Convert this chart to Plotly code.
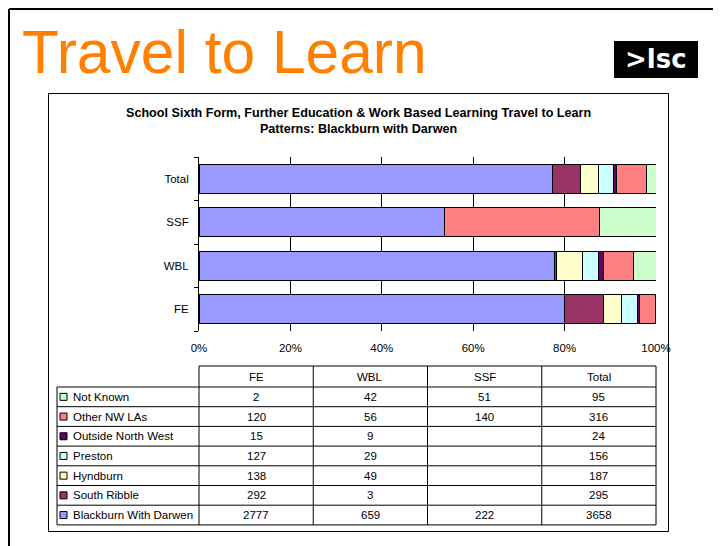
import plotly.graph_objects as go

# ---------------- data ----------------
groups = ["FE", "WBL", "SSF", "Total"]
destinations = ["Not Known", "Other NW LAs", "Outside North West", "Preston",
                "Hyndburn", "South Ribble", "Blackburn With Darwen"]
not_known = [2, 42, 51, 95]
other_nw_las = [120, 56, 140, 316]
outside_north_west = [15, 9, None, 24]
preston = [127, 29, None, 156]
hyndburn = [138, 49, None, 187]
south_ribble = [292, 3, None, 295]
blackburn_with_darwen = [2777, 659, 222, 3658]
x_tick_values = [0, 20, 40, 60, 80, 100]
x_tick_labels = ["0%", "20%", "40%", "60%", "80%", "100%"]

series = {
    "Not Known": not_known,
    "Other NW LAs": other_nw_las,
    "Outside North West": outside_north_west,
    "Preston": preston,
    "Hyndburn": hyndburn,
    "South Ribble": south_ribble,
    "Blackburn With Darwen": blackburn_with_darwen,
}
colors = {
    "Not Known": "#CCFFCC",
    "Other NW LAs": "#FF8080",
    "Outside North West": "#660066",
    "Preston": "#CCFFFF",
    "Hyndburn": "#FFFFCC",
    "South Ribble": "#993366",
    "Blackburn With Darwen": "#9999FF",
}

# page is shown with the browser's default 8px body margin
OFF = 8
W, H = 721 - OFF, 546 - OFF
FONT = "Arial, 'Liberation Sans', sans-serif"


def px(x):
    return (x - OFF) / W


def py(y):
    return 1 - (y - OFF) / H


# plot area (page pixels)
PL, PR, PT, PB = 199, 656, 157, 331

fig = go.Figure()
stack_order = list(reversed(destinations))  # Blackburn first (left)
for name in stack_order:
    fig.add_trace(go.Bar(
        y=groups, x=series[name], name=name, orientation="h",
        marker=dict(color=colors[name], line=dict(color="black", width=1)),
        showlegend=False,
    ))

shapes = []
annotations = []

# slide border
shapes.append(dict(type="line", xref="paper", yref="paper", x0=px(9), x1=px(740),
                   y0=py(9), y1=py(9), line=dict(color="black", width=2)))
shapes.append(dict(type="line", xref="paper", yref="paper", x0=px(9), x1=px(9),
                   y0=py(9), y1=py(560), line=dict(color="black", width=2)))
# chart box
shapes.append(dict(type="rect", xref="paper", yref="paper", x0=px(48.5), x1=px(668.5),
                   y0=py(93.5), y1=py(531.5), line=dict(color="black", width=1)))

# Slide title
annotations.append(dict(text="Travel to Learn", xref="paper", yref="paper",
                        x=px(20), y=py(52), xanchor="left", yanchor="middle",
                        showarrow=False,
                        font=dict(family=FONT, size=60.5, color="#FF8000")))
# logo
shapes.append(dict(type="rect", xref="paper", yref="paper", x0=px(614), x1=px(698),
                   y0=py(41), y1=py(78), fillcolor="black", line=dict(width=0)))
annotations.append(dict(text="<b>&gt;lsc</b>", xref="paper", yref="paper",
                        x=px(656), y=py(59), xanchor="center", yanchor="middle",
                        showarrow=False,
                        font=dict(family="'DejaVu Sans', sans-serif", size=26, color="white")))

# chart title
annotations.append(dict(
    text="<b>School Sixth Form, Further Education &amp; Work Based Learning Travel to Learn<br>"
         "Patterns: Blackburn with Darwen</b>",
    xref="paper", yref="paper", x=px(358), y=py(121), xanchor="center", yanchor="middle",
    showarrow=False, font=dict(family=FONT, size=12.6, color="black")))

# ---------------- data table ----------------
col_edges = [PL + (PR - PL) * i / 4 for i in range(5)]
header_top = 366
row_edges = [387 + 19.7 * i for i in range(8)]
label_left = 57
table_groups = ["FE", "WBL", "SSF", "Total"]
table_rows = destinations  # Not Known first
TFONT = dict(family=FONT, size=11.5, color="black")

line_style = dict(color="black", width=1)
shapes.append(dict(type="line", xref="paper", yref="paper", x0=px(col_edges[0]), x1=px(col_edges[-1]),
                   y0=py(header_top), y1=py(header_top), line=line_style))
for ry in row_edges:
    shapes.append(dict(type="line", xref="paper", yref="paper", x0=px(label_left), x1=px(col_edges[-1]),
                       y0=py(ry), y1=py(ry), line=line_style))
for cx in col_edges:
    shapes.append(dict(type="line", xref="paper", yref="paper", x0=px(cx), x1=px(cx),
                       y0=py(header_top), y1=py(row_edges[-1]), line=line_style))
shapes.append(dict(type="line", xref="paper", yref="paper", x0=px(label_left), x1=px(label_left),
                   y0=py(row_edges[0]), y1=py(row_edges[-1]), line=line_style))

for j, g in enumerate(table_groups):
    annotations.append(dict(text=g, xref="paper", yref="paper",
                            x=px((col_edges[j] + col_edges[j + 1]) / 2),
                            y=py((header_top + row_edges[0]) / 2),
                            xanchor="center", yanchor="middle", showarrow=False,
                            font=TFONT))

g_index = {g: k for k, g in enumerate(groups)}
for i, name in enumerate(table_rows):
    cy = (row_edges[i] + row_edges[i + 1]) / 2
    shapes.append(dict(type="rect", xref="paper", yref="paper", x0=px(60), x1=px(67),
                       y0=py(cy - 3.5), y1=py(cy + 3.5), fillcolor=colors[name],
                       line=dict(color="black", width=1)))
    annotations.append(dict(text=name, xref="paper", yref="paper", x=px(71), y=py(cy),
                            xanchor="left", yanchor="middle", showarrow=False,
                            font=TFONT))
    vals = series[name]
    for j, g in enumerate(table_groups):
        v = vals[g_index[g]]
        if v is None:
            continue
        annotations.append(dict(text=str(v), xref="paper", yref="paper",
                                x=px((col_edges[j] + col_edges[j + 1]) / 2), y=py(cy),
                                xanchor="center", yanchor="middle", showarrow=False,
                                font=TFONT))

fig.update_layout(
    template="none",
    width=W, height=H, autosize=False,
    margin=dict(l=0, r=0, t=0, b=0, pad=0, autoexpand=False),
    paper_bgcolor="white", plot_bgcolor="white",
    barmode="stack", barnorm="percent", bargap=0.333,
    font=dict(family=FONT, size=11, color="black"),
    shapes=shapes, annotations=annotations,
    xaxis=dict(domain=[px(PL), px(PR)], range=[0, 100], tickvals=x_tick_values,
               ticktext=x_tick_labels, showgrid=True, gridcolor="black", gridwidth=1,
               zeroline=False, showline=False, ticks="", fixedrange=True,
               automargin=False, ticklabelstandoff=8,
               tickfont=dict(family=FONT, size=11.5, color="black")),
    yaxis=dict(domain=[py(PB), py(PT)], type="category", categoryorder="array",
               categoryarray=groups, showline=True, linecolor="black", linewidth=1,
               ticks="outside", ticklen=4, tickcolor="black", tickson="boundaries",
               showgrid=False, zeroline=False, fixedrange=True,
               automargin=False, ticklabelstandoff=7,
               tickfont=dict(family=FONT, size=11.5, color="black")),
)

fig.write_html("out.html", config={"displayModeBar": False})
